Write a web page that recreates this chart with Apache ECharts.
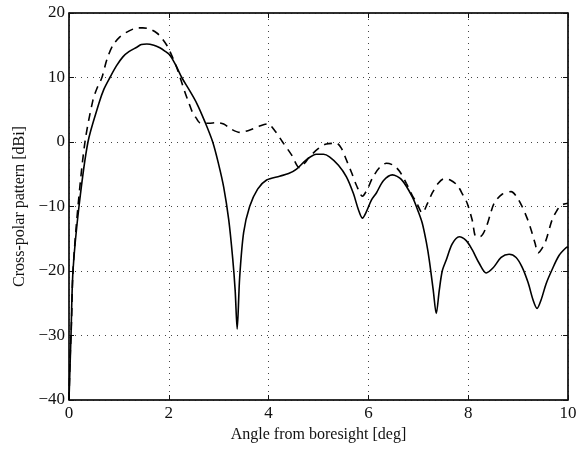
<!DOCTYPE html>
<html>
<head>
<meta charset="utf-8">
<script src="https://cdn.jsdelivr.net/npm/echarts@6/dist/echarts.min.js"></script>
<style>
  html, body { margin: 0; padding: 0; background: #fff; }
  #main { width: 583px; height: 453px; }
</style>
</head>
<body>
<div id="main"></div>
<script>
// solid curve (angle in deg, level in dBi)
var solidAngle = [0, 0.02, 0.04, 0.08, 0.2, 0.38, 0.6, 0.7, 0.82, 0.95, 1.08, 1.2, 1.36, 1.45, 1.56, 1.7, 1.82, 1.92, 2.02, 2.14,
  2.26, 2.4, 2.56, 2.72, 2.88, 3.0, 3.1, 3.2, 3.28, 3.33, 3.37, 3.42, 3.5, 3.62, 3.78, 3.96, 4.22, 4.4, 4.56, 4.75,
  4.96, 5.1, 5.22, 5.4, 5.56, 5.7, 5.8, 5.88, 5.96, 6.06, 6.16, 6.3, 6.48, 6.66, 6.88, 7.0, 7.08, 7.16, 7.22, 7.3,
  7.36, 7.42, 7.48, 7.56, 7.68, 7.82, 7.96, 8.08, 8.22, 8.36, 8.5, 8.66, 8.82, 8.96, 9.08, 9.2, 9.3, 9.38, 9.46, 9.56,
  9.68, 9.82, 9.96, 10];
var solidLevel = [-40, -35, -30, -20, -10, 0, 6, 8.2, 10, 11.8, 13.2, 14, 14.7, 15.1, 15.2, 15.0, 14.6, 14.1, 13.5, 11.9,
  10, 8.2, 6, 3.2, 0, -3.5, -7, -12, -18, -23, -29, -21, -14, -10, -7.3, -5.9, -5.3, -4.9, -4.2, -2.8,
  -1.9, -1.9, -2.3, -3.6, -5.4, -8, -10.5, -11.8, -10.8, -9, -7.9, -6, -5.1, -5.8, -8.5, -10.8, -12.6, -15.5, -18.3, -23,
  -26.6, -23, -20, -18.3, -15.8, -14.7, -15.3, -16.7, -18.8, -20.3, -19.5, -17.9, -17.4, -17.9, -19.4, -21.8, -24.5, -25.8, -24.5, -22,
  -19.8, -17.6, -16.4, -16.3];

// dashed curve
var dashedAngle = [0, 0.02, 0.05, 0.08, 0.18, 0.32, 0.48, 0.57, 0.66, 0.76, 0.88, 1.02, 1.15, 1.28, 1.38, 1.48, 1.62, 1.76, 1.86, 1.96,
  2.06, 2.16, 2.24, 2.32, 2.4, 2.48, 2.55, 2.62, 2.8, 2.96, 3.1, 3.25, 3.42, 3.6, 3.8, 3.98, 4.12, 4.28, 4.46, 4.62,
  4.72, 4.82, 5.0, 5.16, 5.36, 5.46, 5.56, 5.66, 5.76, 5.88, 5.98, 6.08, 6.22, 6.36, 6.5, 6.62, 6.76, 6.88, 6.96, 7.08,
  7.18, 7.28, 7.4, 7.52, 7.64, 7.78, 7.9, 7.98, 8.08, 8.16, 8.26, 8.36, 8.44, 8.52, 8.68, 8.86, 8.98, 9.08, 9.18, 9.26,
  9.34, 9.4, 9.48, 9.56, 9.68, 9.78, 9.86, 10];
var dashedLevel = [-40, -34, -28, -20, -10, 0, 6.5, 8.5, 10, 12.8, 15, 16.3, 17, 17.5, 17.7, 17.7, 17.5, 16.9, 16.1, 15,
  13.4, 11.5, 9.7, 7.8, 6.1, 4.5, 3.7, 3, 2.9, 3, 2.8, 2.0, 1.5, 1.8, 2.4, 2.8, 1.8, 0, -2, -4,
  -3.3, -2.3, -1.0, -0.3, -0.2, -1, -2.8, -4.7, -6.7, -8.4, -7.3, -5.6, -4, -3.3, -3.6, -4.5, -6.4, -8.3, -9.3, -11,
  -9.6, -7.9, -6.4, -5.7, -5.9, -6.7, -8.3, -9.5, -12.1, -14.7, -14.6, -13.2, -11.3, -9.5, -8.1, -7.7, -8.6, -10, -11.8, -13.6,
  -15.7, -17.2, -16.5, -15.2, -12.1, -10.6, -9.8, -9.5];

var xTicks = [0, 2, 4, 6, 8, 10];
var yTicks = [-40, -30, -20, -10, 0, 10, 20];

function pairs(xs, ys) {
  return xs.map(function (x, i) { return [x, ys[i]]; });
}

var font = 'Liberation Serif';
var ink = '#111';

var chart = echarts.init(document.getElementById('main'));

chart.setOption({
  animation: false,
  backgroundColor: '#fff',
  grid: {
    left: 69, right: 15, top: 13, bottom: 53,
    show: true, borderColor: ink, borderWidth: 1
  },
  xAxis: [
    {
      type: 'value',
      min: xTicks[0], max: xTicks[xTicks.length - 1], interval: 2,
      name: 'Angle from boresight [deg]',
      nameLocation: 'middle', nameGap: 27,
      nameTextStyle: { fontFamily: font, fontSize: 16, color: ink },
      axisLine: { show: true, onZero: false, lineStyle: { color: ink, width: 1.5 } },
      axisTick: { show: true, inside: true, length: 5, lineStyle: { color: ink } },
      axisLabel: { fontFamily: font, fontSize: 17, color: ink, margin: 5 },
      splitLine: { show: true, lineStyle: { color: '#444', type: [1, 5], width: 1 } }
    },
    {
      type: 'value', position: 'top',
      min: xTicks[0], max: xTicks[xTicks.length - 1], interval: 2,
      axisLine: { show: true, onZero: false, lineStyle: { color: ink, width: 1.5 } },
      axisTick: { show: true, inside: true, length: 5, lineStyle: { color: ink } },
      axisLabel: { show: false },
      splitLine: { show: false }
    }
  ],
  yAxis: [
    {
      type: 'value',
      min: yTicks[0], max: yTicks[yTicks.length - 1], interval: 10,
      name: 'Cross-polar pattern [dBi]',
      nameLocation: 'middle', nameGap: 41, nameRotate: 90,
      nameTextStyle: { fontFamily: font, fontSize: 16, color: ink },
      axisLine: { show: true, onZero: false, lineStyle: { color: ink, width: 1.5 } },
      axisTick: { show: true, inside: true, length: 5, lineStyle: { color: ink } },
      axisLabel: {
        fontFamily: font, fontSize: 17, color: ink, margin: 4,
        formatter: function (v) { return String(v).replace('-', '\u2212'); }
      },
      splitLine: { show: true, lineStyle: { color: '#444', type: [1, 5], width: 1 } }
    },
    {
      type: 'value', position: 'right',
      min: yTicks[0], max: yTicks[yTicks.length - 1], interval: 10,
      axisLine: { show: true, onZero: false, lineStyle: { color: ink, width: 1.5 } },
      axisTick: { show: true, inside: true, length: 5, lineStyle: { color: ink } },
      axisLabel: { show: false },
      splitLine: { show: false }
    }
  ],
  series: [
    {
      name: 'solid',
      type: 'line',
      data: pairs(solidAngle, solidLevel),
      showSymbol: false,
      smooth: 0.3,
      lineStyle: { color: '#000', width: 1.6 }
    },
    {
      name: 'dashed',
      type: 'line',
      data: pairs(dashedAngle, dashedLevel),
      showSymbol: false,
      smooth: 0.3,
      lineStyle: { color: '#000', width: 1.6, type: [8, 6] }
    }
  ]
});
</script>
</body>
</html>
